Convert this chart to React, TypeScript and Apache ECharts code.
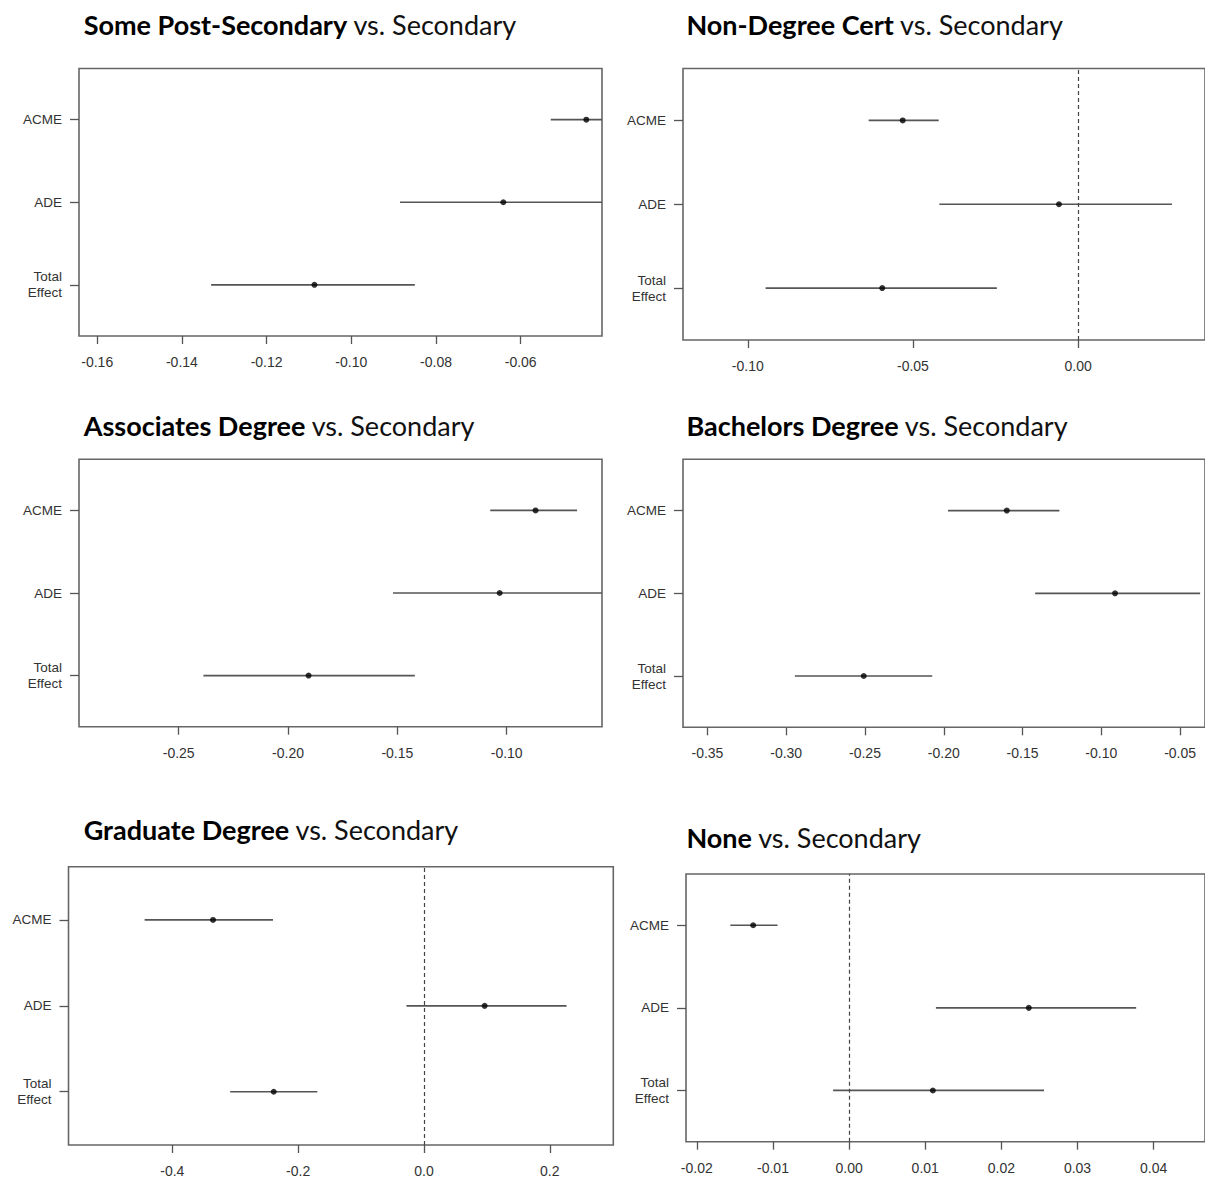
import React, { useEffect, useRef } from "react";
import * as echarts from "echarts";

// ---- data ----
const rowLabels = ["ACME", "ADE", "Total\nEffect"];
const rowPos = [3, 2, 1];

const somePostEst = [-0.0445, -0.0641, -0.1087];
const somePostLo = [-0.0529, -0.0885, -0.1331];
const somePostHi = [-0.0361, -0.0397, -0.085];
const somePostTicks = [-0.16, -0.14, -0.12, -0.1, -0.08, -0.06];

const nonDegreeEst = [-0.0531, -0.0058, -0.0593];
const nonDegreeLo = [-0.0634, -0.042, -0.0946];
const nonDegreeHi = [-0.0422, 0.0284, -0.0246];
const nonDegreeTicks = [-0.1, -0.05, 0.0];

const associatesEst = [-0.0868, -0.1032, -0.1906];
const associatesLo = [-0.1075, -0.152, -0.2387];
const associatesHi = [-0.0678, -0.0544, -0.142];
const associatesTicks = [-0.25, -0.2, -0.15, -0.1];

const bachelorsEst = [-0.16, -0.0913, -0.2508];
const bachelorsLo = [-0.1973, -0.142, -0.2945];
const bachelorsHi = [-0.1266, -0.0373, -0.2073];
const bachelorsTicks = [-0.35, -0.3, -0.25, -0.2, -0.15, -0.1, -0.05];

const graduateEst = [-0.3353, 0.0965, -0.2388];
const graduateLo = [-0.444, -0.0278, -0.308];
const graduateHi = [-0.2399, 0.2267, -0.1695];
const graduateTicks = [-0.4, -0.2, 0.0, 0.2];

const noneEst = [-0.0126, 0.0236, 0.011];
const noneLo = [-0.0156, 0.0114, -0.0021];
const noneHi = [-0.0094, 0.0377, 0.0256];
const noneTicks = [-0.02, -0.01, 0.0, 0.01, 0.02, 0.03, 0.04];

const panels = [
  { bold: "Some Post-Secondary", est: somePostEst, lo: somePostLo, hi: somePostHi, ticks: somePostTicks, dec: 2, zero: false, xmin: -0.1643, xmax: -0.0408 },
  { bold: "Non-Degree Cert", est: nonDegreeEst, lo: nonDegreeLo, hi: nonDegreeHi, ticks: nonDegreeTicks, dec: 2, zero: true, xmin: -0.1196, xmax: 0.0384 },
  { bold: "Associates Degree", est: associatesEst, lo: associatesLo, hi: associatesHi, ticks: associatesTicks, dec: 2, zero: false, xmin: -0.2956, xmax: -0.0564 },
  { bold: "Bachelors Degree", est: bachelorsEst, lo: bachelorsLo, hi: bachelorsHi, ticks: bachelorsTicks, dec: 2, zero: false, xmin: -0.3655, xmax: -0.0342 },
  { bold: "Graduate Degree", est: graduateEst, lo: graduateLo, hi: graduateHi, ticks: graduateTicks, dec: 1, zero: true, xmin: -0.565, xmax: 0.301 },
  { bold: "None", est: noneEst, lo: noneLo, hi: noneHi, ticks: noneTicks, dec: 2, zero: true, xmin: -0.02142, xmax: 0.04674 },
];

// ---- layout (pixels) ----
const layout = [
  { left: 79, top: 68.5, width: 523, height: 267.5, tx: 83.7, ty: 25 },
  { left: 683, top: 68.5, width: 525, height: 271.5, tx: 686.4, ty: 25 },
  { left: 79, top: 459.3, width: 523, height: 267.4, tx: 83.7, ty: 426.7 },
  { left: 683, top: 459.3, width: 525, height: 268, tx: 686.4, ty: 426 },
  { left: 68.5, top: 866.7, width: 544.8, height: 278.3, tx: 83.7, ty: 830 },
  { left: 686, top: 874, width: 522, height: 267.7, tx: 686.4, ty: 838.3 },
];

const AXIS_COLOR = "#555";
const LABEL_COLOR = "#333";

export default function App() {
  const ref = useRef<HTMLDivElement>(null);
  useEffect(() => {
    if (!ref.current) return;
    const chart = echarts.init(ref.current, null, { renderer: "svg" });

    const grid: any[] = [];
    const xAxis: any[] = [];
    const yAxis: any[] = [];
    const series: any[] = [];
    const title: any[] = [];

    panels.forEach((p, i) => {
      const L = layout[i];
      grid.push({
        left: L.left,
        top: L.top,
        width: L.width,
        height: L.height,
        show: true,
        borderColor: "#666",
        borderWidth: 1.6,
        backgroundColor: "transparent",
        containLabel: false,
      });
      xAxis.push({
        type: "value",
        gridIndex: i,
        position: "bottom",
        min: p.xmin,
        max: p.xmax,
        axisLine: { show: false, onZero: false },
        splitLine: { show: false },
        axisTick: {
          show: true,
          customValues: p.ticks,
          length: 8,
          lineStyle: { color: AXIS_COLOR, width: 1.3 },
        },
        axisLabel: {
          show: true,
          customValues: p.ticks,
          margin: 19,
          color: LABEL_COLOR,
          fontFamily: "Liberation Sans, Arial, sans-serif",
          fontSize: 14,
          formatter: (v: number) => Number(v).toFixed(p.dec),
        },
      });
      yAxis.push({
        type: "value",
        gridIndex: i,
        position: "left",
        min: 0.38,
        max: 3.62,
        axisLine: { show: false, onZero: false },
        splitLine: { show: false },
        axisTick: {
          show: true,
          customValues: rowPos,
          length: 9,
          lineStyle: { color: AXIS_COLOR, width: 1.3 },
        },
        axisLabel: {
          show: true,
          customValues: rowPos,
          margin: 17,
          color: LABEL_COLOR,
          fontFamily: "Liberation Sans, Arial, sans-serif",
          fontSize: 13.5,
          lineHeight: 16,
          align: "right",
          formatter: (v: number) => {
            const idx = rowPos.indexOf(Math.round(v));
            return idx >= 0 ? rowLabels[idx] : "";
          },
        },
      });
      series.push({
        type: "custom",
        xAxisIndex: i,
        yAxisIndex: i,
        clip: true,
        silent: true,
        encode: { x: [1, 2], y: 0 },
        data: p.lo.map((lo, k) => [rowPos[k], lo, p.hi[k]]),
        renderItem: (params: any, api: any) => {
          const y = api.value(0);
          const a = api.coord([api.value(1), y]);
          const b = api.coord([api.value(2), y]);
          return {
            type: "line",
            shape: { x1: a[0], y1: a[1], x2: b[0], y2: b[1] },
            style: { stroke: "#555", lineWidth: 1.7 },
          };
        },
        z: 2,
      });
      const sc: any = {
        type: "scatter",
        xAxisIndex: i,
        yAxisIndex: i,
        symbol: "circle",
        symbolSize: 6,
        itemStyle: { color: "#000" },
        silent: true,
        data: p.est.map((e, k) => [e, rowPos[k]]),
        z: 3,
      };
      if (p.zero) {
        sc.markLine = {
          silent: true,
          symbol: ["none", "none"],
          label: { show: false },
          lineStyle: { type: [4, 3], color: "#444", width: 1.2 },
          data: [{ xAxis: 0 }],
        };
      }
      series.push(sc);
      title.push({
        text: `{b|${p.bold}}{n| vs. Secondary}`,
        left: L.tx,
        top: L.ty - 17,
        textStyle: {
          rich: {
            b: { fontFamily: "Lato, sans-serif", fontWeight: "bold", fontSize: 27, color: "#000", lineHeight: 32 },
            n: { fontFamily: "Lato, sans-serif", fontWeight: "normal", fontSize: 27, color: "#111", lineHeight: 32 },
          },
        },
        padding: 0,
      });
    });

    chart.setOption({
      animation: false,
      backgroundColor: "#fff",
      title,
      grid,
      xAxis,
      yAxis,
      series,
    });
    return () => chart.dispose();
  }, []);

  return (
    <div
      ref={ref}
      style={{ position: "absolute", left: 0, top: 0, width: 1205, height: 1181 }}
    />
  );
}
